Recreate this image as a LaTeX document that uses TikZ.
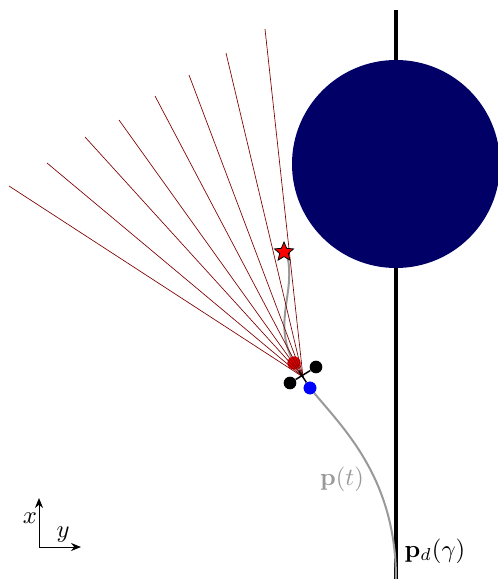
\documentclass[tikz,border=0pt]{standalone}
\usepackage{amsmath, amssymb, bm}
\usepackage{xcolor}
\usetikzlibrary{arrows.meta, shapes.geometric}
\definecolor{obstacle}{RGB}{0,0,102}
\definecolor{raycol}{RGB}{125,0,0}
\begin{document}
\begin{tikzpicture}[
    x=0.75pt, y=-0.75pt,
    ray/.style={draw=raycol, line width=0.5pt},
    traj/.style={draw=black!40, line width=1.5pt},
    rotor/.style={circle, fill=black, inner sep=0pt, minimum size=9.5pt},
    axis/.style={-{Stealth[length=7.5pt, width=6pt]}, line width=0.75pt},
    lab/.style={inner sep=0pt, scale=1.85, transform shape},
]
\useasboundingbox (0,0) rectangle (498,579);

% Desired path and obstacle
\coordinate (pathtop) at (396,10);
\coordinate (pathend) at (396,579);
\draw[line width=3pt] (pathtop) -- (pathend);
\node[circle, fill=obstacle, inner sep=0pt, minimum size=156pt] (obst) at (396,164) {};

% Trajectories
\node[circle, fill=red!90!black, inner sep=0pt, minimum size=10pt] (gaze) at (294,363) {};
\coordinate (goalpt) at (287,255);
\draw[traj] (goalpt) .. controls (296,290) and (274,320) .. (gaze);
\node[circle, fill=blue, inner sep=0pt, minimum size=9.5pt] (body) at (310,388) {};
\draw[traj] (body) .. controls (345,430) and (396,480) .. (pathend);

% Rays
\coordinate (cam) at (303,377);
\foreach \tipx/\tipy in {9/186,47/163,85/137,119/120,155/96,189/75,226/53,265/29}{
    \coordinate (tip) at (\tipx,\tipy);
    \draw[ray] (cam) -- (tip);
}
\node[star, star points=5, star point ratio=2.2, draw=black, fill=red, line width=0.6pt, inner sep=0pt, minimum size=15pt] (goal) at (284,252) {};

% Quadrotor
\node[rotor] (rotora) at (316,367) {};
\node[rotor] (rotorb) at (290,383) {};
\coordinate (armtop) at (299,371);
\draw[line width=1.1pt] (rotora) -- (rotorb);
\draw[line width=1.1pt] (armtop) -- (body);
\node[circle, fill=blue, inner sep=0pt, minimum size=9.5pt] at (body) {};

% Labels
\node[lab, text=black!40] (ptlab) at (342,479) {$\mathbf{p}(t)$};
\node[lab] (pdlab) at (435,551) {$\mathbf{p}_d(\gamma)$};

% Axes
\coordinate (orig) at (39,547);
\coordinate (xtip) at (39,498);
\coordinate (ytip) at (81,547);
\draw[axis] (orig) -- (xtip);
\draw[axis] (orig) -- (ytip);
\node[lab] (xlab) at (30,518) {$x$};
\node[lab] (ylab) at (63,535) {$y$};
\end{tikzpicture}
\end{document}
